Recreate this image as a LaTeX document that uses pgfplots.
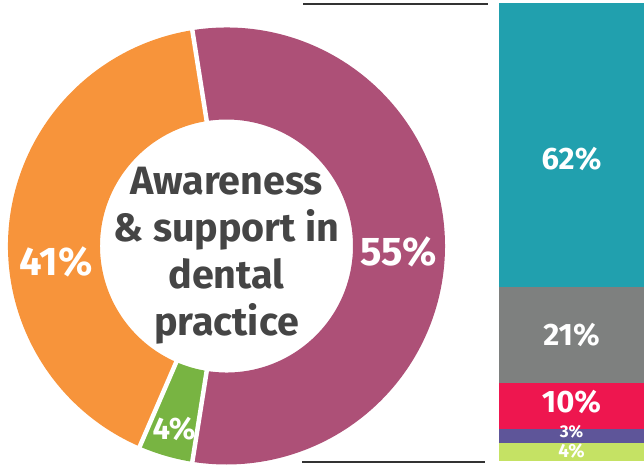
\documentclass[border=0pt]{standalone}
\usepackage{pgfplots}
\pgfplotsset{compat=1.18}
\usepackage{fontspec}
\setmainfont{Fira Sans}
\definecolor{piepurple}{HTML}{AD5077}
\definecolor{pieorange}{HTML}{F7943B}
\definecolor{piegreen}{HTML}{78B442}
\definecolor{barteal}{HTML}{21A0AE}
\definecolor{bargray}{HTML}{7E807F}
\definecolor{barred}{HTML}{EE164F}
\definecolor{barpurple}{HTML}{5E5599}
\definecolor{barlgreen}{HTML}{C5E264}
\definecolor{textgray}{HTML}{454545}
\definecolor{linegray}{HTML}{333333}
\begin{document}
\begin{tikzpicture}[x=1pt,y=1pt]
\useasboundingbox (0,0) rectangle (644,469);
% ---------------- donut ----------------
\begin{axis}[at={(226.5pt,223pt)}, anchor=center, scale only axis,
  width=437pt, height=437pt,
  xmin=-218.5, xmax=218.5, ymin=-218.5, ymax=218.5,
  hide axis, clip=false]
\addplot[draw=none] coordinates {(0,0)};
\xdef\curang{99}
\foreach \v/\c in {55/piepurple, 4/piegreen, 41/pieorange}{
  \pgfmathsetmacro\endang{\curang-3.6*\v}
  \edef\temp{\noexpand\fill[\c] ([shift={(\curang:218.5pt)}]axis cs:0,0)
     arc[start angle=\curang, end angle=\endang, radius=218.5pt]
     -- ([shift={(\endang:126.5pt)}]axis cs:0,0)
     arc[start angle=\endang, end angle=\curang, radius=126.5pt] -- cycle;}
  \temp
  \xdef\curang{\endang}
}
\xdef\curang{99}
\foreach \v in {55, 4, 41}{
  \edef\temp{\noexpand\draw[white, line width=4.5pt] ([shift={(\curang:118pt)}]axis cs:0,0) -- ([shift={(\curang:226pt)}]axis cs:0,0);}
  \temp
  \pgfmathsetmacro\endang{\curang-3.6*\v}
  \xdef\curang{\endang}
}
\node[align=center, text=textgray, font=\fontsize{39.5}{47}\selectfont\bfseries]
  at (axis cs:0,-10) {Awareness\\\& support in\\dental\\practice};
\node[text=white, font=\fontsize{40}{44}\selectfont\bfseries] at ([shift={(-2:172pt)}]axis cs:0,0) {55\%};
\node[text=white, font=\fontsize{40}{44}\selectfont\bfseries] at ([shift={(185.3:171pt)}]axis cs:0,0) {41\%};
\node[text=white, font=\fontsize{31}{34}\selectfont\bfseries] at ([shift={(-106:190pt)}]axis cs:0,0) {4\%};
\end{axis}
% ---------------- stacked bar ----------------
\begin{axis}[at={(499pt,8pt)}, anchor=south west, scale only axis,
  width=145pt, height=458pt,
  xmin=-0.5, xmax=0.5, ymin=0, ymax=100,
  ybar stacked, bar width=145pt, hide axis, clip=false]
\addplot[fill=barlgreen, draw=none] coordinates {(0,4)};
\addplot[fill=barpurple, draw=none] coordinates {(0,3)};
\addplot[fill=barred, draw=none] coordinates {(0,10)};
\addplot[fill=bargray, draw=none] coordinates {(0,21)};
\addplot[fill=barteal, draw=none] coordinates {(0,62)};
\coordinate (l62) at (axis cs:0,66);
\coordinate (l21) at (axis cs:0,27.5);
\coordinate (l10) at (axis cs:0,13);
\coordinate (l3) at (axis cs:0,6.4);
\coordinate (l4) at (axis cs:0,2.1);
\end{axis}
\node[text=white, font=\fontsize{31}{33}\selectfont\bfseries] at (l62) {62\%};
\node[text=white, font=\fontsize{31}{33}\selectfont\bfseries] at (l21) {21\%};
\node[text=white, font=\fontsize{31}{33}\selectfont\bfseries] at (l10) {10\%};
\node[text=white, inner sep=0pt, font=\fontsize{17}{18}\selectfont\bfseries] at (l3) {3\%};
\node[text=white, inner sep=0pt, font=\fontsize{19}{20}\selectfont\bfseries] at (l4) {4\%};
\draw[linegray, line width=2.5pt] (303,465) -- (488,465);
\draw[linegray, line width=2.5pt] (302,7) -- (485,7);
\end{tikzpicture}
\end{document}
